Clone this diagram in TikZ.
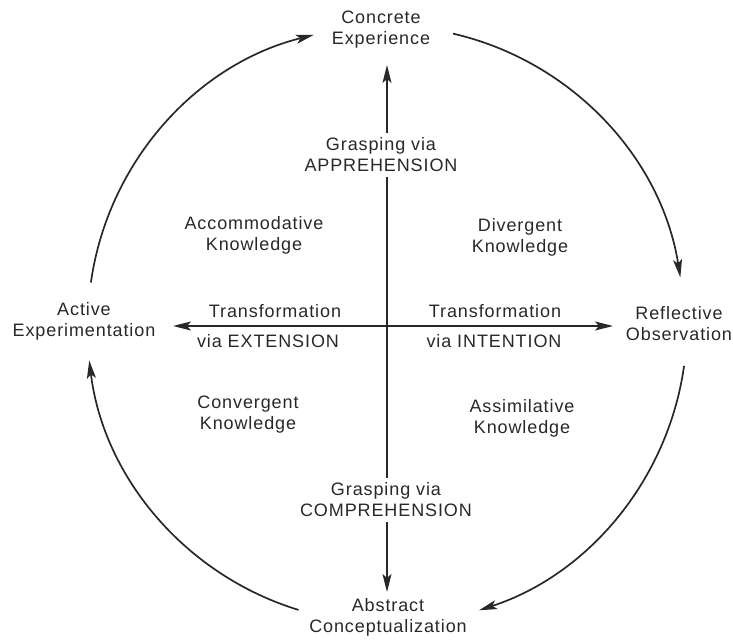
\documentclass[tikz,border=0pt]{standalone}
\usepackage{fontspec}
\newfontfamily\lblfont[LetterSpace=5]{Liberation Sans}
\usetikzlibrary{arrows.meta}
\definecolor{ink}{RGB}{40,40,40}
\begin{document}
\begin{tikzpicture}[x=1pt,y=1pt,
  lbl/.style={font=\lblfont\fontsize{18}{21}\selectfont, text=ink, align=center, inner sep=0pt},
  gap/.style={lbl, fill=white, inner sep=5pt},
  arr/.style={draw=ink, line width=1.7pt, -{Stealth[length=18pt,width=9pt,inset=4pt]}},
]
\useasboundingbox (0,0) rectangle (733,643);

% centre of the cross, centre of the cycle, and the free ends of the axes
\coordinate (c) at (387,317);
\coordinate (o) at (386,319);
\coordinate (ntip) at (387,578);
\coordinate (stip) at (387,51);
\coordinate (wtip) at (173,317);
\coordinate (etip) at (613,317);

% the two axes
\draw[arr] (c) -- (ntip);
\draw[arr] (c) -- (stip);
\draw[arr] (c) -- (wtip);
\draw[arr] (c) -- (etip);

% the learning cycle
\draw[arr] ([shift={(172:298)}]o) arc[start angle=172, end angle=104, radius=298];
\draw[arr] ([shift={(77:298)}]o) arc[start angle=77, end angle=9, radius=298];
\draw[arr] ([shift={(-8:301)}]o) arc[start angle=-8, end angle=-72, radius=301];
\draw[arr] ([shift={(-107:299)}]o) arc[start angle=-107, end angle=-173, radius=299];

% poles
\node[lbl] (CE) at (381,613) {Concrete\\Experience};
\node[lbl] (RO) at (679,319) {Reflective\\Observation};
\node[lbl] (AC) at (388,26) {Abstract\\Conceptualization};
\node[lbl] (AE) at (84,322) {Active\\Experimentation};

% axis labels
\node[gap] (gA) at (381,488) {Grasping via\\APPREHENSION};
\node[gap] (gC) at (386,143) {Grasping via\\COMPREHENSION};
\node[lbl] (tL) at (275,332) {Transformation};
\node[lbl] (vL) at (268,302) {via EXTENSION};
\node[lbl] (tR) at (495,332) {Transformation};
\node[lbl] (vR) at (494,302) {via INTENTION};

% knowledge forms
\node[lbl] (acc) at (254,408) {Accommodative\\Knowledge};
\node[lbl] (div) at (520,406) {Divergent\\Knowledge};
\node[lbl] (conv) at (248,228) {Convergent\\Knowledge};
\node[lbl] (asim) at (522,225) {Assimilative\\Knowledge};
\end{tikzpicture}
\end{document}
